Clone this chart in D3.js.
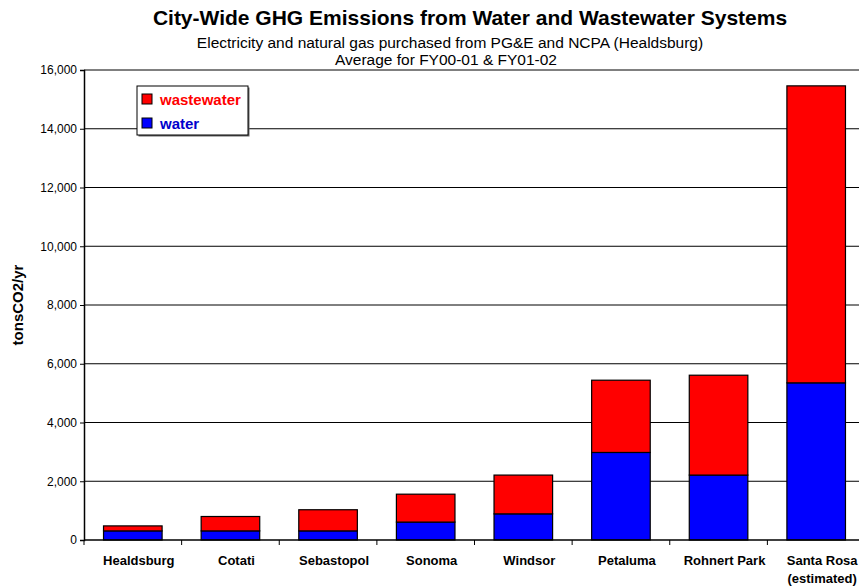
<!DOCTYPE html>
<html>
<head>
<meta charset="utf-8">
<script src="https://cdn.jsdelivr.net/npm/d3@7"></script>
<style>
  body { margin: 0; background: #fff; }
  text { font-family: Arial, "Liberation Sans", sans-serif; }
</style>
</head>
<body>
<svg id="chart" width="859" height="587"></svg>
<script>
// city names, the last one has a second line
let cities = ["Healdsburg", "Cotati", "Sebastopol", "Sonoma", "Windsor", "Petaluma", "Rohnert Park", "Santa Rosa"];
let cityNotes = ["", "", "", "", "", "", "", "(estimated)"];
let water = [310, 310, 310, 610, 890, 2980, 2210, 5350];
let wastewater = [170, 490, 720, 950, 1320, 2460, 3400, 10110];
let yTicks = [0, 2000, 4000, 6000, 8000, 10000, 12000, 14000, 16000];

let svg = d3.select("#chart");
// plot area runs a little past the right edge of the picture
let margin = {left: 84, top: 70, bottom: 47};
let width = 781;
let height = 587 - margin.top - margin.bottom;

let x = d3.scaleBand().domain(cities).range([0, width]).paddingInner(0.4).paddingOuter(0.2);
let xOuter = d3.scaleBand().domain(cities).range([0, width]);
let y = d3.scaleLinear().domain([0, 16000]).range([height, 0]);

let g = svg.append("g").attr("transform", "translate(" + margin.left + "," + margin.top + ")");

// gridlines
g.append("g").selectAll("line").data(yTicks.slice(1))
    .enter().append("line")
    .attr("x1", 0).attr("x2", width)
    .attr("y1", d => y(d)).attr("y2", d => y(d))
    .attr("stroke", "#000").attr("stroke-width", 1);

// stacked bars
let rows = cities.map((c, i) => ({city: c, water: water[i], wastewater: wastewater[i]}));
let stack = d3.stack().keys(["water", "wastewater"])(rows);
let colors = {water: "#0000ff", wastewater: "#ff0000"};

g.selectAll(".series").data(stack).enter().append("g")
    .attr("fill", d => colors[d.key])
    .selectAll("rect").data(d => d).enter().append("rect")
    .attr("x", d => x(d.data.city))
    .attr("width", x.bandwidth())
    .attr("y", d => y(d[1]))
    .attr("height", d => y(d[0]) - y(d[1]))
    .attr("stroke", "#000").attr("stroke-width", 1.2);

// y axis
let yAxis = g.append("g")
    .call(d3.axisLeft(y).tickValues(yTicks).tickSize(4).tickFormat(d3.format(",")));
yAxis.select(".domain").attr("stroke", "#000").attr("stroke-width", 1.5);
yAxis.selectAll("text").attr("font-size", 12).attr("fill", "#000")
    .style("font-family", "Arial, 'Liberation Sans', sans-serif");

// x axis baseline and boundary ticks
g.append("line").attr("x1", 0).attr("x2", width).attr("y1", height).attr("y2", height)
    .attr("stroke", "#000").attr("stroke-width", 1.5);
g.append("g").selectAll("line").data(cities)
    .enter().append("line")
    .attr("x1", d => xOuter(d)).attr("x2", d => xOuter(d))
    .attr("y1", height).attr("y2", height + 5)
    .attr("stroke", "#000");

// category labels (sit a few px right of the bar centres, like the original)
let labX = d => xOuter(d) + xOuter.bandwidth() / 2 + 6;
let lab = g.append("g").selectAll("text").data(cities).enter().append("text")
    .attr("x", labX)
    .attr("y", height + 25)
    .attr("text-anchor", "middle")
    .attr("font-size", 13).attr("font-weight", "bold");
lab.append("tspan").text(d => d);
lab.append("tspan")
    .attr("x", labX)
    .attr("dy", 18)
    .text((d, i) => cityNotes[i]);

// y label
svg.append("text")
    .attr("transform", "translate(23," + (margin.top + height / 2) + ") rotate(-90)")
    .attr("text-anchor", "middle")
    .attr("font-size", 15).attr("font-weight", "bold")
    .text("tonsCO2/yr");

// titles
svg.append("text").attr("x", 470).attr("y", 25).attr("text-anchor", "middle")
    .attr("font-size", 21).attr("font-weight", "bold")
    .text("City-Wide GHG Emissions from Water and Wastewater Systems");
svg.append("text").attr("x", 450).attr("y", 48).attr("text-anchor", "middle")
    .attr("font-size", 15.5)
    .text("Electricity and natural gas purchased from PG&E and NCPA (Healdsburg)");
svg.append("text").attr("x", 446).attr("y", 65).attr("text-anchor", "middle")
    .attr("font-size", 15.5)
    .text("Average for FY00-01 & FY01-02");

// legend
let leg = svg.append("g").attr("transform", "translate(137,86)");
leg.append("rect").attr("x", 1.5).attr("y", 1.5).attr("width", 111).attr("height", 49).attr("fill", "#666");
leg.append("rect").attr("width", 111).attr("height", 49).attr("fill", "#fff").attr("stroke", "#000");
let legItems = [{k: "wastewater", c: "#ff0000", t: "#ff0000"}, {k: "water", c: "#0000ff", t: "#0000cc"}];
legItems.forEach((d, i) => {
    leg.append("rect").attr("x", 5).attr("y", 8 + i * 24).attr("width", 10).attr("height", 10)
        .attr("fill", d.c).attr("stroke", "#000");
    leg.append("text").attr("x", 23).attr("y", 19 + i * 24)
        .attr("font-size", 15).attr("font-weight", "bold").attr("fill", d.t)
        .text(d.k);
});
</script>
</body>
</html>
